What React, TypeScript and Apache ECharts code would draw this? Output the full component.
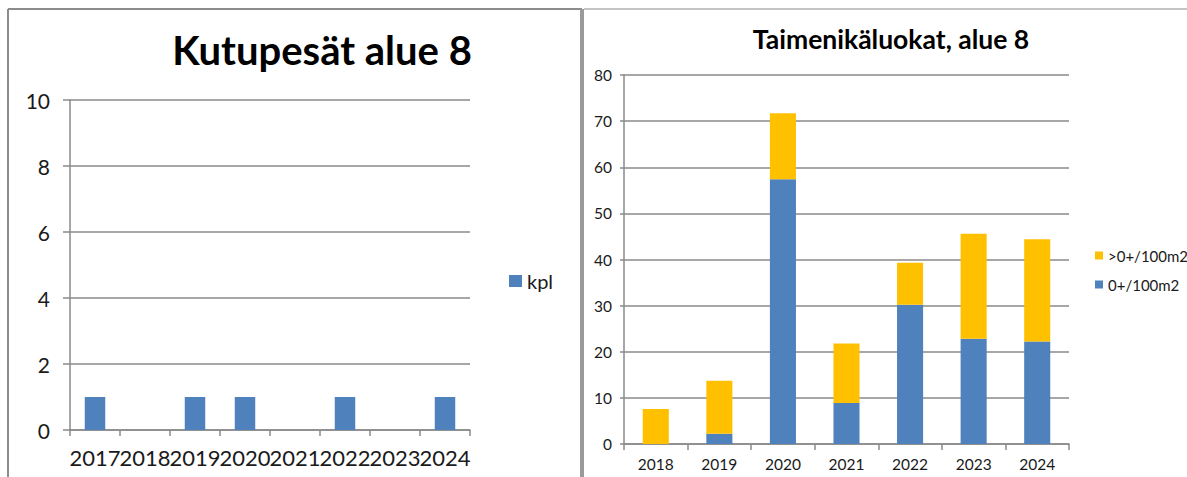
import React, { useEffect, useRef } from "react";
import * as echarts from "echarts";

const nestYears = ["2017", "2018", "2019", "2020", "2021", "2022", "2023", "2024"];
const nestCounts = [1, 0, 1, 1, 0, 1, 0, 1];

const troutYears = ["2018", "2019", "2020", "2021", "2022", "2023", "2024"];
const youngOfYear = [0, 2.2, 57.4, 8.9, 30.2, 22.8, 22.2];
const olderFish = [7.6, 11.5, 14.3, 12.9, 9.1, 22.8, 22.2];

const leftTitle = "Kutupesät alue 8";
const rightTitle = "Taimenikäluokat, alue 8";

const BLUE = "#4F81BD";
const YELLOW = "#FFC000";
const GRID = "#8a8a8a";
const FONT = "Lato";

export default function App() {
  const ref = useRef<HTMLDivElement>(null);
  useEffect(() => {
    if (!ref.current) return;
    const chart = echarts.init(ref.current, null, { renderer: "svg" });
    chart.setOption({
      animation: false,
      backgroundColor: "#fff",
      textStyle: { fontFamily: FONT, color: "#1a1a1a" },
      grid: [
        { left: 70, top: 100, width: 400, height: 330 },
        { left: 624, top: 75, width: 445, height: 369 },
      ],
      legend: [
        {
          data: ["kpl"],
          left: 509,
          top: 271,
          padding: 0,
          itemWidth: 13,
          itemHeight: 12,
          itemGap: 10,
          textStyle: { fontSize: 20, color: "#1a1a1a", fontFamily: FONT },
          icon: "rect",
        },
        {
          data: [">0+/100m2", "0+/100m2"],
          orient: "vertical",
          left: 1095,
          top: 248,
          padding: 0,
          itemWidth: 8,
          itemHeight: 8,
          itemGap: 14,
          textStyle: { fontSize: 15, color: "#1a1a1a", fontFamily: FONT },
          icon: "rect",
        },
      ],
      xAxis: [
        {
          type: "category",
          gridIndex: 0,
          data: nestYears,
          axisLine: { lineStyle: { color: GRID, width: 1.5 } },
          axisTick: { show: true, length: 6, lineStyle: { color: GRID, width: 1.5 } },
          axisLabel: { fontSize: 22, color: "#1a1a1a", margin: 16, interval: 0 },
        },
        {
          type: "category",
          gridIndex: 1,
          data: troutYears,
          axisLine: { lineStyle: { color: GRID, width: 1.5 } },
          axisTick: { show: true, length: 6, lineStyle: { color: GRID, width: 1.5 } },
          axisLabel: { fontSize: 15.5, color: "#1a1a1a", margin: 12, interval: 0 },
        },
      ],
      yAxis: [
        {
          type: "value",
          gridIndex: 0,
          min: 0,
          max: 10,
          interval: 2,
          axisLine: { show: true, lineStyle: { color: GRID, width: 1.5 } },
          axisTick: { show: true, length: 7, lineStyle: { color: GRID, width: 1.5 } },
          splitLine: { show: true, lineStyle: { color: GRID, width: 1.5 } },
          axisLabel: { fontSize: 21, color: "#1a1a1a", margin: 20 },
        },
        {
          type: "value",
          gridIndex: 1,
          min: 0,
          max: 80,
          interval: 10,
          axisLine: { show: true, lineStyle: { color: GRID, width: 1.5 } },
          axisTick: { show: true, length: 4, lineStyle: { color: GRID, width: 1.5 } },
          splitLine: { show: true, lineStyle: { color: GRID, width: 1.5 } },
          axisLabel: { fontSize: 15.5, color: "#1a1a1a", margin: 12 },
        },
      ],
      series: [
        {
          name: "kpl",
          type: "bar",
          xAxisIndex: 0,
          yAxisIndex: 0,
          data: nestCounts,
          barWidth: "41%",
          itemStyle: { color: BLUE },
        },
        {
          name: "0+/100m2",
          type: "bar",
          stack: "trout",
          xAxisIndex: 1,
          yAxisIndex: 1,
          data: youngOfYear,
          barWidth: "41%",
          itemStyle: { color: BLUE },
        },
        {
          name: ">0+/100m2",
          type: "bar",
          stack: "trout",
          xAxisIndex: 1,
          yAxisIndex: 1,
          data: olderFish,
          barWidth: "41%",
          itemStyle: { color: YELLOW },
        },
      ],
      graphic: [
        { type: "line", shape: { x1: 8, y1: 9, x2: 582, y2: 9 }, style: { stroke: "#8c8c8c", lineWidth: 2 } },
        { type: "line", shape: { x1: 8, y1: 9, x2: 8, y2: 477 }, style: { stroke: "#8c8c8c", lineWidth: 2 } },
        { type: "rect", shape: { x: 580, y: 9, width: 4, height: 468 }, style: { fill: "#9a9a9a" } },
        { type: "line", shape: { x1: 584, y1: 9, x2: 1187, y2: 9 }, style: { stroke: "#b0b0b0", lineWidth: 1.5 } },
        {
          type: "text",
          x: 322,
          y: 50,
          style: {
            text: leftTitle,
            align: "center",
            verticalAlign: "middle",
            font: `bold 40px ${FONT}`,
            fill: "#000",
          },
        },
        {
          type: "text",
          x: 891,
          y: 39,
          style: {
            text: rightTitle,
            align: "center",
            verticalAlign: "middle",
            font: `bold 26.5px ${FONT}`,
            fill: "#000",
          },
        },
      ],
    });
    return () => chart.dispose();
  }, []);
  return (
    <div
      ref={ref}
      style={{ position: "fixed", left: 0, top: 0, width: 1187, height: 477 }}
    />
  );
}
